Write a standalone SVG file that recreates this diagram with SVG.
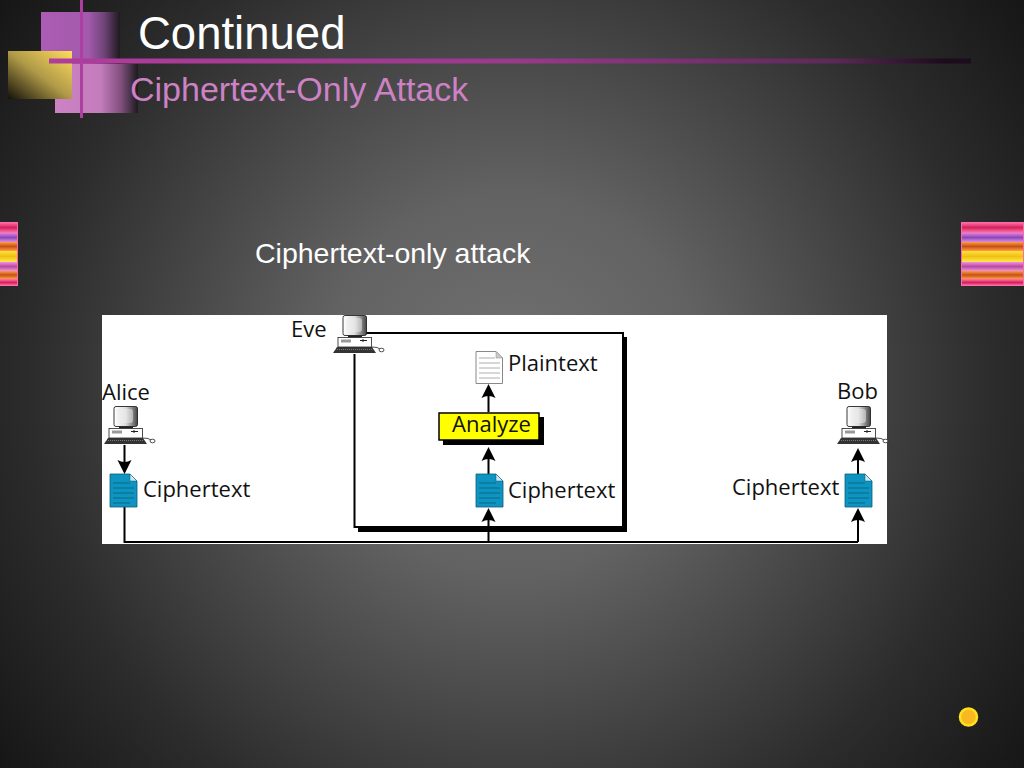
<svg xmlns="http://www.w3.org/2000/svg" xmlns:xlink="http://www.w3.org/1999/xlink" width="1024" height="768" viewBox="0 0 1024 768">
<style>
.t{font-family:"Liberation Sans",Arial,sans-serif}
.d{font-family:"Open Sans","Noto Sans",sans-serif;font-size:22px;fill:#111}
.w{fill:none;stroke:#000;stroke-width:2}
</style>
<defs>
<radialGradient id="bg" gradientUnits="userSpaceOnUse" cx="512" cy="384" r="640">
<stop offset="0" stop-color="#727272"/><stop offset="0.3" stop-color="#626262"/><stop offset="0.6" stop-color="#3e3e3e"/><stop offset="0.75" stop-color="#2c2c2c"/><stop offset="1" stop-color="#161616"/>
</radialGradient>
<linearGradient id="p1" x1="0" x2="1" y1="0" y2="0"><stop offset="0" stop-color="#ac5cb4"/><stop offset="0.6" stop-color="#a25aac"/><stop offset="0.8" stop-color="#6f4478"/><stop offset="1" stop-color="#1d1a1e"/></linearGradient>
<linearGradient id="p2" x1="0" x2="1" y1="0" y2="0"><stop offset="0" stop-color="#cc82c4"/><stop offset="0.55" stop-color="#c47cbc"/><stop offset="0.8" stop-color="#7f4f7c"/><stop offset="1" stop-color="#1d1a1e"/></linearGradient>
<linearGradient id="y1" x1="0" x2="1" y1="1" y2="0"><stop offset="0" stop-color="#151208"/><stop offset="0.5" stop-color="#b09a48"/><stop offset="1" stop-color="#ffdc5c"/></linearGradient>
<linearGradient id="bar" x1="0" x2="1" y1="0" y2="0"><stop offset="0" stop-color="#b03c9c"/><stop offset="0.5" stop-color="#9a3a8c"/><stop offset="0.85" stop-color="#5c2a58"/><stop offset="0.97" stop-color="#1c0c1c"/></linearGradient>
<linearGradient id="scr" x1="0" x2="1" y1="0" y2="0"><stop offset="0" stop-color="#fff"/><stop offset="0.5" stop-color="#ddd"/><stop offset="1" stop-color="#444"/></linearGradient>
<linearGradient id="s1" x1="0" x2="0" y1="0" y2="1"><stop offset="0" stop-color="#ff7ab0"/><stop offset="0.5" stop-color="#d8205c"/><stop offset="1" stop-color="#ff7ab0"/></linearGradient>
<linearGradient id="s2" x1="0" x2="0" y1="0" y2="1"><stop offset="0" stop-color="#e080e0"/><stop offset="0.5" stop-color="#8a48b8"/><stop offset="1" stop-color="#e48ae0"/></linearGradient>
<linearGradient id="s3" x1="0" x2="0" y1="0" y2="1"><stop offset="0" stop-color="#f8a040"/><stop offset="0.5" stop-color="#c85018"/><stop offset="1" stop-color="#ffa040"/></linearGradient>
<linearGradient id="s4" x1="0" x2="0" y1="0" y2="1"><stop offset="0" stop-color="#ffe040"/><stop offset="0.5" stop-color="#f0c010"/><stop offset="1" stop-color="#ffe850"/></linearGradient>
<linearGradient id="s5" x1="0" x2="0" y1="0" y2="1"><stop offset="0" stop-color="#f090e0"/><stop offset="0.5" stop-color="#b84aa0"/><stop offset="1" stop-color="#f090e0"/></linearGradient>
<g id="stripes">
<rect x="0" y="0" width="63" height="11" fill="url(#s1)"/>
<rect x="0" y="11" width="63" height="9" fill="url(#s2)"/>
<rect x="0" y="20" width="63" height="9" fill="url(#s3)"/>
<rect x="0" y="29" width="63" height="11" fill="url(#s4)"/>
<rect x="0" y="40" width="63" height="9" fill="url(#s5)"/>
<rect x="0" y="49" width="63" height="8" fill="url(#s3)"/>
<rect x="0" y="57" width="63" height="7" fill="url(#s1)"/>
<rect x="0.500" y="0.500" width="62" height="63" fill="none" stroke="#ff6aa8" stroke-width="1"/>
</g>
<g id="pc">
<rect x="10" y="0.500" width="23.500" height="20" rx="2" fill="url(#scr)" stroke="#222" stroke-width="0.900"/>
<rect x="13" y="3" width="16" height="14" rx="3" fill="#eee" opacity="0.500"/>
<rect x="15" y="20.500" width="14" height="2" fill="#222"/>
<rect x="5" y="22.500" width="33.500" height="9.500" fill="#fff" stroke="#222" stroke-width="0.800"/>
<rect x="8" y="24.500" width="10" height="3" fill="#999"/>
<path d="M27 25.500h7M30 24v3" stroke="#222" stroke-width="1"/>
<path d="M4 32h35l4 6H0z" fill="#333"/>
<path d="M2 34.500h38" stroke="#999" stroke-width="0.700" stroke-dasharray="1 1"/>
<path d="M39 32q6 0 8 2" fill="none" stroke="#222" stroke-width="0.800"/>
<ellipse cx="48.500" cy="35" rx="2.500" ry="1.800" fill="#fff" stroke="#222" stroke-width="0.800"/>
</g>
<g id="doc">
<path d="M0 0H20L27 7V33H0z" fill="#0e94c0" stroke="#0a5a78" stroke-width="0.800"/>
<path d="M20 0V7H27z" fill="#cfe6ee" stroke="#0a5a78" stroke-width="0.500"/>
<path d="M3 9H20M3 14H24M3 19H24M3 24H24M3 29H20" stroke="#0a5a78" stroke-width="0.800"/>
</g>
<path id="ah" d="M0 0L7 14Q0 10 -7 14z" fill="#000"/>
</defs>
<rect id="background" width="1024" height="768" fill="url(#bg)"/>
<g id="decor">
<rect x="41" y="12" width="79" height="87" fill="url(#p1)"/>
<rect x="55" y="64" width="83" height="49" fill="url(#p2)"/>
<rect x="8" y="51" width="64" height="48" fill="url(#y1)"/>
<rect x="49" y="58.500" width="922" height="5" fill="url(#bar)"/>
<rect x="80" y="0" width="3" height="118" fill="#ac3f9f"/>
<use xlink:href="#stripes" href="#stripes" x="961" y="222"/>
<svg x="0" y="222" width="18" height="64" viewBox="45 0 18 64"><use xlink:href="#stripes" href="#stripes"/></svg>
<circle cx="968.500" cy="717" r="8.500" fill="#f8b820" stroke="#ffe020" stroke-width="2.500"/>
</g>
<text id="title" class="t" x="138" y="49" font-size="45.500" fill="#fff">Continued</text>
<text id="subtitle" class="t" x="130" y="101" font-size="34" fill="#cc82c4">Ciphertext-Only Attack</text>
<text id="caption" class="t" x="255" y="263" font-size="28.500" fill="#fff">Ciphertext-only attack</text>
<rect id="panel" x="102" y="315" width="785" height="229" fill="#fff"/>
<g id="connectors">
<rect x="358" y="337" width="269" height="195" fill="#000"/>
<rect x="354.500" y="333" width="268.500" height="194" fill="#fff" stroke="#000" stroke-width="2"/>
<path class="w" d="M124.500 507V542H858M488.500 542V520M858 542V520M858 475V458M488.500 475V458M488.500 412V395M124.500 445V462"/>
<use xlink:href="#ah" href="#ah" transform="translate(124.500 474) rotate(180)"/>
<use xlink:href="#ah" href="#ah" x="488.500" y="508"/>
<use xlink:href="#ah" href="#ah" x="488.500" y="447"/>
<use xlink:href="#ah" href="#ah" x="488.500" y="384"/>
<use xlink:href="#ah" href="#ah" x="858" y="508"/>
<use xlink:href="#ah" href="#ah" x="858" y="448"/>
</g>
<g id="alice">
<use xlink:href="#pc" href="#pc" x="104" y="406"/>
<text class="d" x="102" y="400">Alice</text>
</g>
<g id="alice-ciphertext">
<use xlink:href="#doc" href="#doc" x="110" y="474"/>
<text class="d" x="143" y="497">Ciphertext</text>
</g>
<g id="eve">
<rect x="332" y="315" width="34" height="39" fill="#fff"/>
<use xlink:href="#pc" href="#pc" x="333" y="315"/>
<text class="d" x="291" y="337">Eve</text>
</g>
<g id="plaintext">
<path d="M476 351.500H496L502.500 358V383.500H476z" fill="#fff" stroke="#888" stroke-width="1"/>
<path d="M496 351.500V358H502.500z" fill="#ccc" stroke="#888" stroke-width="0.500"/>
<path d="M479 358H495M479 363H500M479 368H500M479 373H500M479 378H500" stroke="#999" stroke-width="0.800"/>
<text class="d" x="508" y="371">Plaintext</text>
</g>
<g id="analyze">
<rect x="443" y="417" width="101" height="28" fill="#000"/>
<rect x="439" y="413" width="100" height="27" fill="#ff0" stroke="#000" stroke-width="1.500"/>
<text class="d" x="452" y="432">Analyze</text>
</g>
<g id="eve-ciphertext">
<use xlink:href="#doc" href="#doc" x="476" y="474"/>
<text class="d" x="508" y="498">Ciphertext</text>
</g>
<g id="bob">
<use xlink:href="#pc" href="#pc" x="837" y="406"/>
<text class="d" x="837" y="399">Bob</text>
</g>
<g id="bob-ciphertext">
<use xlink:href="#doc" href="#doc" x="845" y="474"/>
<text class="d" x="732" y="495">Ciphertext</text>
</g>
</svg>
